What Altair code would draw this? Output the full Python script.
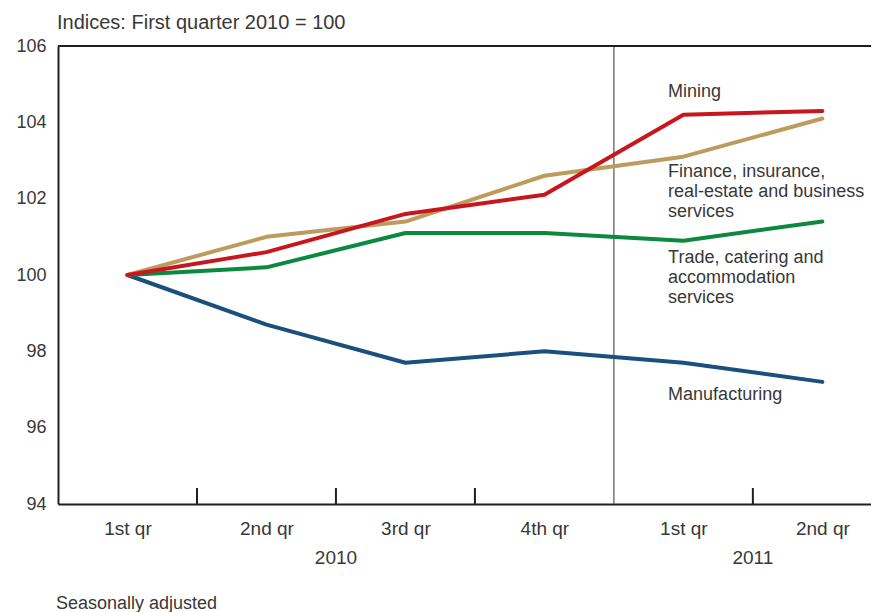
import json
import altair as alt
import pandas as pd

# ---- data ----
quarters = ["1st qr", "2nd qr", "3rd qr", "4th qr", "1st qr", "2nd qr"]
quarter_pos = [0, 1, 2, 3, 4, 5]
years = ["2010", "2011"]
year_pos = [1.5, 4.5]
year_break = [3.5]
tick_pos = [0.5, 1.5, 2.5, 4.5]

manufacturing = [100.0, 98.7, 97.7, 98.0, 97.7, 97.2]
trade = [100.0, 100.2, 101.1, 101.1, 100.9, 101.4]
finance = [100.0, 101.0, 101.4, 102.6, 103.1, 104.1]
mining = [100.0, 100.6, 101.6, 102.1, 104.2, 104.3]

series_names = ["Manufacturing", "Trade", "Finance", "Mining"]
series_values = [manufacturing, trade, finance, mining]
series_colors = ["#1b4f7e", "#0b8a3f", "#bc9b5c", "#c8161e"]

label_texts = [
    "Manufacturing",
    "Trade, catering and\naccommodation\nservices",
    "Finance, insurance,\nreal-estate and business\nservices",
    "Mining",
]
label_x = [3.89, 3.89, 3.89, 3.89]
label_y = [97.1, 100.69, 102.94, 105.02]

y_ticks = [94, 96, 98, 100, 102, 104, 106]

# ---- layout / style ----
W, H = 813, 458
FONT = "Liberation Sans"
TXT = "#383838"
AX = "#231f20"

rows = []
for name, vals in zip(series_names, series_values):
    for p, v in zip(quarter_pos, vals):
        rows.append({"series": name, "pos": p, "value": v})
df = pd.DataFrame(rows)

xscale = alt.Scale(domain=[-0.5, 5.35], nice=False, zero=False)
yscale = alt.Scale(domain=[94, 106], nice=False, zero=False)

label_expr = json.dumps(quarters) + "[datum.value]"

base = alt.Chart(df)

lines = [
    base.transform_filter(alt.datum.series == name)
    .mark_line(strokeWidth=4, color=col, strokeCap="round", strokeJoin="round")
    .encode(
        x=alt.X(
            "pos:Q",
            scale=xscale,
            axis=alt.Axis(
                values=quarter_pos,
                labelExpr=label_expr,
                ticks=False,
                grid=False,
                domain=True,
                domainWidth=2,
                domainColor=AX,
                labelFont=FONT,
                labelFontSize=19,
                labelColor=TXT,
                labelPadding=15,
                title=None,
            ),
        ),
        y=alt.Y(
            "value:Q",
            scale=yscale,
            axis=alt.Axis(
                values=y_ticks,
                ticks=False,
                grid=False,
                domain=True,
                domainWidth=2,
                domainColor=AX,
                labelFont=FONT,
                labelFontSize=18,
                labelColor=TXT,
                labelPadding=12,
                title=None,
            ),
        ),
    )
    for name, col in zip(series_names, series_colors)
]

sep = (
    alt.Chart(pd.DataFrame({"x": year_break}))
    .mark_rule(color="#555555", strokeWidth=1.2)
    .encode(x=alt.X("x:Q", scale=xscale), y=alt.value(0), y2=alt.value(H))
)

ticks = (
    alt.Chart(pd.DataFrame({"x": tick_pos}))
    .mark_rule(color=AX, strokeWidth=2)
    .encode(x=alt.X("x:Q", scale=xscale), y=alt.value(H - 16), y2=alt.value(H))
)

top_border = (
    alt.Chart(pd.DataFrame({"a": [0]}))
    .mark_rule(color=AX, strokeWidth=2)
    .encode(x=alt.value(0), x2=alt.value(W), y=alt.value(0))
)

year_labels = (
    alt.Chart(pd.DataFrame({"x": year_pos, "t": years}))
    .mark_text(font=FONT, fontSize=19, color=TXT, align="center", baseline="middle")
    .encode(x=alt.X("x:Q", scale=xscale), y=alt.value(H + 54), text="t:N")
)

series_labels = (
    alt.Chart(pd.DataFrame({"x": label_x, "y": label_y, "t": label_texts}))
    .mark_text(font=FONT, fontSize=18, color=TXT, align="left", baseline="top",
               lineBreak="\n", lineHeight=20)
    .encode(x=alt.X("x:Q", scale=xscale), y=alt.Y("y:Q", scale=yscale), text="t:N")
)

title_text = (
    alt.Chart(pd.DataFrame({"t": ["Indices: First quarter 2010 = 100"]}))
    .mark_text(font=FONT, fontSize=20, color=TXT, align="left", baseline="middle")
    .encode(x=alt.value(-1), y=alt.value(-23), text="t:N")
)

foot_text = (
    alt.Chart(pd.DataFrame({"t": ["Seasonally adjusted"]}))
    .mark_text(font=FONT, fontSize=18, color=TXT, align="left", baseline="bottom")
    .encode(x=alt.value(-2), y=alt.value(H + 109), text="t:N")
)

chart = (
    alt.layer(sep, ticks, top_border, *lines, year_labels, series_labels, title_text, foot_text)
    .properties(
        width=W,
        height=H,
        padding={"left": 50, "top": 38, "right": 0, "bottom": 110},
        autosize=alt.AutoSizeParams(type="none"),
        background="white",
    )
    .configure_view(stroke=None)
)

chart.save("out.html", embed_options={"renderer": "svg", "actions": False})
